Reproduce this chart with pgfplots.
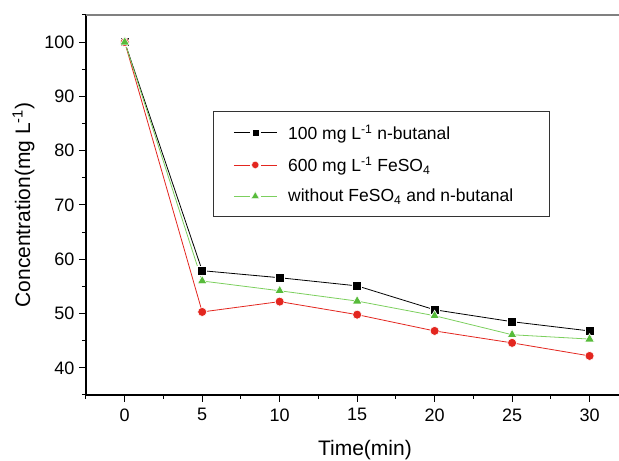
\documentclass[border=0pt]{standalone}
\usepackage{fontspec}
\setmainfont{Liberation Sans}
\usepackage{pgfplots}
\pgfplotsset{compat=1.18}
\definecolor{cred}{HTML}{E3261F}
\definecolor{cgreen}{HTML}{57BB3A}
\definecolor{lgreen}{HTML}{7CCF5E}

\begin{document}
\begin{tikzpicture}
\begin{axis}[
    scale only axis,
    width=533pt, height=380pt,
    xmin=-2.5, xmax=31.9,
    ymin=35, ymax=105,
    xtick={0,5,10,15,20,25,30},
    minor xtick={-2.5,2.5,7.5,12.5,17.5,22.5,27.5},
    ytick={40,50,60,70,80,90,100},
    minor ytick={35,45,55,65,75,85,95,105},
    axis x line*=bottom,
    axis y line*=left,
    axis line style={line width=1.2pt, -},
    tick align=outside,
    major tick length=7pt,
    minor tick length=4pt,
    every tick/.style={black, line width=1pt},
    /pgf/number format/assume math mode=true,
    ticklabel style={font=\fontsize{18}{20}\selectfont},
    xticklabel style={yshift=-3pt},
    yticklabel style={xshift=-1pt},
    xlabel={Time(min)},
    ylabel={Concentration(mg L\textsuperscript{-1})},
    label style={font=\fontsize{21}{24}\selectfont},
    xlabel style={at={(axis cs:15.5,35)}, anchor=base, yshift=-61pt},
    ylabel style={yshift=3pt},
    legend style={
        at={(rel axis cs:0.238,0.747)}, anchor=north west,
        draw=black!80, line width=1pt,
        font=\fontsize{17.5}{20}\selectfont,
        inner xsep=20pt, inner ysep=11pt,
        row sep=12pt,
        legend cell align=left,
    },
    legend image code/.code={
        \draw[#1, mark=none] (0pt,0pt) -- (16pt,0pt) (27pt,0pt) -- (43pt,0pt);
        \path[#1, every mark/.append style={scale=0.8, line width=0.3pt}]
            plot coordinates {(21.5pt,0pt)};
        \path (52pt,0pt);
    },
    clip=false,
]

\addplot[black, line width=0.8pt, mark=square*, mark size=4.5pt,
    mark options={fill=black, draw=white, line width=0.6pt}]
coordinates {
    (0,100) (5,57.9) (10,56.6) (15,55.1) (20,50.7) (25,48.5) (30,46.8)
};
\addlegendentry{100 mg L\textsuperscript{-1} n-butanal}

\addplot[cred, line width=0.8pt, mark=*, mark size=4.5pt,
    mark options={fill=cred, draw=white, line width=0.6pt}]
coordinates {
    (0,100) (5,50.3) (10,52.2) (15,49.8) (20,46.8) (25,44.6) (30,42.2)
};
\addlegendentry{600 mg L\textsuperscript{-1} FeSO\textsubscript{4}}

\addplot[lgreen, line width=0.8pt, mark=triangle*, mark size=5.5pt,
    mark options={fill=cgreen, draw=white, line width=0.6pt}]
coordinates {
    (0,100) (5,56.0) (10,54.2) (15,52.3) (20,49.6) (25,46.1) (30,45.3)
};
\addlegendentry{without FeSO\textsubscript{4} and n-butanal\hspace*{14pt}}

\draw[gray, line width=1.3pt] (rel axis cs:0,1) -- (rel axis cs:1,1);
\end{axis}
\pgfresetboundingbox
\path (current axis.south west) ++(-86pt,-66pt) coordinate (bbA);
\path (current axis.north east) ++(0pt,15pt) coordinate (bbB);
\useasboundingbox (bbA) rectangle (bbB);
\end{tikzpicture}
\end{document}
